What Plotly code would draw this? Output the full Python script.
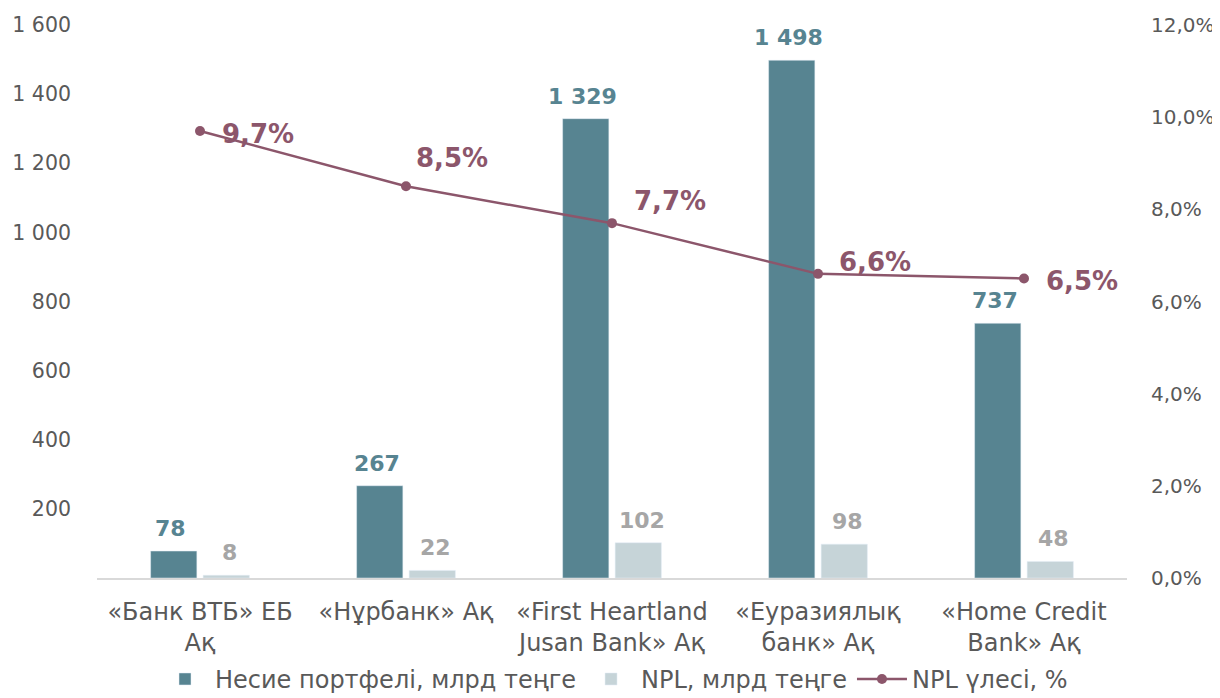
import plotly.graph_objects as go

categories = ["«Банк ВТБ» ЕБ<br>Ақ", "«Нұрбанк» Ақ", "«First Heartland<br>Jusan Bank» Ақ",
              "«Еуразиялық<br>банк» Ақ", "«Home Credit<br>Bank» Ақ"]
loan_portfolio = [78, 267, 1329, 1498, 737]
npl_amount = [8, 22, 102, 98, 48]
npl_share = [0.097, 0.085, 0.077, 0.066, 0.065]
left_ticks = [200, 400, 600, 800, 1000, 1200, 1400, 1600]
right_ticks = [0, 0.02, 0.04, 0.06, 0.08, 0.10, 0.12]

dark = "#578491"
light = "#C6D4D8"
wine = "#8C566B"
grey = "#595959"
font_family = "DejaVu Sans, Verdana, sans-serif"

# label pixel offsets (style only)
line_label_shift = [(20, -3), (8, 28), (20, 22), (19, 12), (20, -3)]
bar_offset_px = 29.5


def fmt_int(v):
    return f"{v:,}".replace(",", " ")


def fmt_pct(v):
    return f"{v * 100:.1f}%".replace(".", ",")


fig = go.Figure()
fig.add_trace(go.Bar(x=categories, y=loan_portfolio, name="Несие портфелі, млрд теңге",
                     marker_color=dark))
fig.add_trace(go.Bar(x=categories, y=npl_amount, name="NPL, млрд теңге",
                     marker_color=light))
fig.add_trace(go.Scatter(
    x=categories, y=npl_share, name="NPL үлесі, %", yaxis="y2",
    mode="lines+markers", line=dict(color=wine, width=2.5),
    marker=dict(color=wine, size=10), cliponaxis=False,
))

annotations = []
for c, v in zip(categories, loan_portfolio):
    annotations.append(dict(x=c, y=v, xref="x", yref="y", text=fmt_int(v), showarrow=False,
                            xanchor="center", yanchor="bottom", xshift=-bar_offset_px, yshift=8,
                            font=dict(color=dark, size=22, family=font_family, weight="bold")))
for c, v in zip(categories, npl_amount):
    annotations.append(dict(x=c, y=v, xref="x", yref="y", text=fmt_int(v), showarrow=False,
                            xanchor="center", yanchor="bottom", xshift=bar_offset_px, yshift=8,
                            font=dict(color="#A6A6A6", size=22, family=font_family, weight="bold")))
for (c, v), (dx, dy) in zip(zip(categories, npl_share), line_label_shift):
    annotations.append(dict(x=c, y=v, xref="x", yref="y2", text=fmt_pct(v), showarrow=False,
                            xanchor="left", yanchor="middle", xshift=dx, yshift=dy,
                            font=dict(color=wine, size=26, family=font_family, weight="bold")))

fig.update_layout(
    width=1212, height=690,
    margin=dict(l=89, r=93, t=17, b=120, autoexpand=False),
    paper_bgcolor="white", plot_bgcolor="white",
    separators=", ",
    font=dict(family=font_family, color=grey, size=20),
    barmode="group", bargap=0.49, bargroupgap=0.12,
    showlegend=True,
    annotations=annotations,
    legend=dict(orientation="h", x=0.5, xanchor="center", xref="container",
                y=0.027, yanchor="middle", yref="container",
                font=dict(size=24, color=grey), traceorder="normal", itemwidth=50),
    xaxis=dict(showline=True, linecolor="#D9D9D9", linewidth=1.5, ticks="",
               tickfont=dict(size=24, color=grey), showgrid=False, automargin=False,
               ticklabelstandoff=11),
    yaxis=dict(range=[0, 1600], tickvals=left_ticks, tickformat=",d", showgrid=False,
               zeroline=False, showline=False, tickfont=dict(size=20.5, color=grey),
               ticklabelstandoff=25, automargin=False),
    yaxis2=dict(range=[0, 0.12], tickvals=right_ticks, tickformat=".1%", overlaying="y",
                side="right", showgrid=False, zeroline=False, showline=False,
                tickfont=dict(size=20, color=grey), ticklabelstandoff=23, automargin=False),
)

fig.write_html("out.html")
